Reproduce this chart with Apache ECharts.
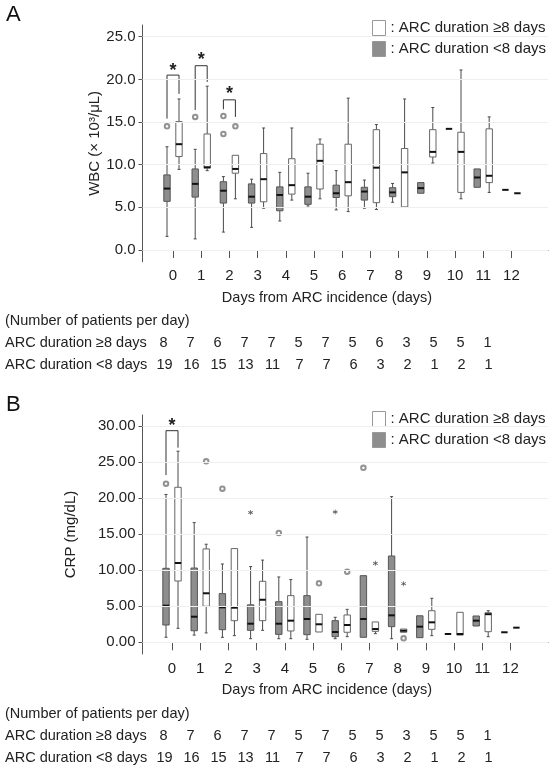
<!DOCTYPE html>
<html>
<head>
<meta charset="utf-8">
<script src="https://cdn.jsdelivr.net/npm/echarts@6/dist/echarts.min.js"></script>
<style>html,body{margin:0;padding:0;background:#fff}#c{width:550px;height:771px}</style>
</head>
<body>
<div id="c"></div>
<script>
(() => {
  "use strict";
  const LONG = "ARC duration ≥8 days";
  const SHORT = "ARC duration <8 days";
  const days = ["0", "1", "2", "3", "4", "5", "6", "7", "8", "9", "10", "11", "12"];

  // [min, Q1, median, Q3, max] per day
  const wbcLong = [
    [9.45, 10.95, 12.4, 15.05, 17.7], [9.3, 9.6, 9.7, 13.6, 19.2], [6.0, 9.0, 9.5, 11.1, 11.1],
    [4.9, 5.65, 8.3, 11.3, 14.3], [5.85, 6.55, 7.6, 10.7, 14.3], [6.0, 7.15, 10.45, 12.4, 13.0],
    [4.5, 6.35, 7.95, 12.4, 17.8], [4.75, 5.55, 9.65, 14.1, 14.7], [5.05, 5.05, 9.1, 11.9, 17.7],
    [10.2, 10.9, 11.5, 14.1, 16.7], [6.0, 6.75, 11.5, 13.8, 21.1], [6.75, 7.9, 8.7, 14.2, 15.6],
    [6.65, 6.65, 6.65, 6.65, 6.65],
  ];
  const wbcShort = [
    [1.6, 5.7, 7.2, 8.8, 12.1], [1.3, 6.2, 7.75, 9.5, 11.8], [2.1, 5.5, 6.95, 8.0, 8.6],
    [2.65, 5.5, 6.25, 7.75, 8.3], [3.4, 4.6, 6.45, 7.4, 9.1], [5.15, 5.35, 6.25, 7.4, 9.0],
    [4.7, 6.15, 6.65, 7.6, 9.3], [4.9, 5.85, 6.85, 7.35, 8.2], [5.6, 6.25, 6.75, 7.3, 7.8],
    [6.65, 6.65, 7.25, 7.9, 7.9], [14.2, 14.2, 14.2, 14.2, 14.2], [7.35, 7.35, 8.5, 9.5, 9.5],
    [7.05, 7.05, 7.05, 7.05, 7.05],
  ];
  const wbcLongOut = [[2, 14.5]];
  const wbcShortOut = [[0, 14.5], [1, 15.6], [2, 15.7], [2, 13.6]];
  const wbcLongExt = [];
  const wbcShortExt = [];
  // [day, left leg bottom, bracket top, right leg bottom, star]
  const wbcSig = [[0, 15.4, 20.5, 18.3, 21.5], [1, 16.4, 21.6, 19.7, 22.7], [2, 16.5, 17.6, 15.6, 18.7]];

  const crpLong = [
    [1.94, 8.5, 11.0, 21.5, 26.5], [1.3, 5.0, 6.8, 12.95, 13.6], [0.92, 3.0, 4.8, 13.0, 13.0],
    [1.66, 3.0, 5.9, 8.46, 11.4], [0.5, 1.57, 3.0, 6.47, 8.7], [1.43, 1.43, 2.5, 3.88, 3.88],
    [0.78, 1.39, 2.4, 3.79, 4.57], [1.2, 1.52, 1.84, 2.82, 2.82], [1.39, 1.39, 1.6, 1.84, 1.84],
    [0.92, 1.8, 2.77, 4.38, 6.1], [1.0, 1.0, 1.15, 4.16, 4.16], [0.78, 1.47, 3.9, 4.1, 4.38],
    [2.03, 2.03, 2.03, 2.03, 2.03],
  ];
  const crpShort = [
    [0.7, 2.4, 5.08, 10.26, 20.5], [1.0, 1.6, 3.55, 10.3, 16.6], [0.69, 1.75, 4.85, 6.75, 10.86],
    [0.5, 1.66, 2.58, 5.2, 10.5], [0.5, 1.1, 2.58, 5.63, 9.06], [0.42, 1.06, 3.23, 6.47, 14.6],
    [0.5, 0.78, 1.43, 3.0, 3.47], [0.69, 0.69, 3.23, 9.24, 9.24], [0.5, 2.17, 3.74, 11.97, 20.2],
    [0.64, 0.64, 2.17, 3.68, 3.68], [1.15, 1.15, 1.15, 1.15, 1.15], [2.26, 2.26, 3.0, 3.65, 3.65],
    [1.39, 1.39, 1.39, 1.39, 1.39],
  ];
  const crpLongOut = [[1, 25.1], [5, 8.18], [6, 9.8], [8, 0.55]];
  const crpShortOut = [[0, 22.0], [2, 21.3], [4, 15.16], [7, 24.2]];
  const crpLongExt = [[7, 10.95], [8, 8.13]];
  const crpShortExt = [[3, 18.0], [6, 18.07]];
  const crpSig = [[0, 23.2, 29.35, 27.0, 30.5]];

  const wbcTicks = [0, 5, 10, 15, 20, 25];
  const crpTicks = [0, 5, 10, 15, 20, 25, 30];

  const nLongA = [8, 7, 6, 7, 7, 5, 7, 5, 6, 3, 5, 5, 1];
  const nShortA = [19, 16, 15, 13, 11, 7, 7, 6, 3, 2, 1, 2, 1];
  const nLongB = [8, 7, 6, 7, 7, 5, 7, 5, 5, 3, 5, 5, 1];
  const nShortB = [19, 16, 15, 13, 11, 7, 7, 6, 3, 2, 1, 2, 1];

  const FONT = "'Liberation Sans', Arial, sans-serif";
  const TXT = "#222";
  const AX = "#555";
  const GRAY = "#8e8e8e";
  const OFF = 6, BOX_W = 6.4, CAP_W = 3;
  const FRAME_L = 142.5, FRAME_R = 548, BAND = 28.2;

  const panels = [
    { letter: "A", name: "WBC (× 10³/μL)", nameGap: 40, frameTop: 25, axisY: 261.7, topVal: 25, topPx: 36.7, zeroPx: 250, tick0: 173,
      ticks: wbcTicks, dec: 1, long: wbcLong, short: wbcShort, longOut: wbcLongOut, shortOut: wbcShortOut,
      longExt: wbcLongExt, shortExt: wbcShortExt, sig: wbcSig, nLong: nLongA, nShort: nShortA, legendTop: 15 },
    { letter: "B", name: "CRP (mg/dL)", nameGap: 64, frameTop: 415, axisY: 654, topVal: 30, topPx: 426, zeroPx: 642.3, tick0: 172,
      ticks: crpTicks, dec: 2, long: crpLong, short: crpShort, longOut: crpLongOut, shortOut: crpShortOut,
      longExt: crpLongExt, shortExt: crpShortExt, sig: crpSig, nLong: nLongB, nShort: nShortB, legendTop: 406 },
  ];

  const grid = [], xAxis = [], yAxis = [], series = [], legend = [], graphic = [];

  const boxRender = (side, fill, stroke) => (params, api) => {
    const i = api.value(0);
    const x = api.coord([i, 0])[0] + side * OFF;
    const [yMin, yQ1, yMed, yQ3, yMax] = [1, 2, 3, 4, 5].map(k => api.coord([i, api.value(k)])[1]);
    const hw = BOX_W / 2, cw = CAP_W / 2;
    const ws = { stroke: "#4a4a4a", lineWidth: 1 };
    const line = (x1, y1, x2, y2, style) => ({ type: "line", shape: { x1, y1, x2, y2 }, style });
    const kids = [];
    if (yMax < yQ3 - 0.5) kids.push(line(x, yMax, x, yQ3, ws), line(x - cw, yMax, x + cw, yMax, ws));
    if (yMin > yQ1 + 0.5) kids.push(line(x, yQ1, x, yMin, ws), line(x - cw, yMin, x + cw, yMin, ws));
    if (yQ1 - yQ3 > 0.5) kids.push({ type: "rect", shape: { x: x - hw, y: yQ3, width: BOX_W, height: yQ1 - yQ3 }, style: { fill, stroke, lineWidth: 1 } });
    kids.push(line(x - hw, yMed, x + hw, yMed, { stroke: "#111", lineWidth: 2 }));
    return { type: "group", children: kids };
  };

  const sigRender = (params, api) => {
    const i = api.value(0);
    const x = api.coord([i, 0])[0];
    const [yL, yT, yR, yS] = [1, 2, 3, 4].map(k => api.coord([i, api.value(k)])[1]);
    return { type: "group", children: [
      { type: "polyline", shape: { points: [[x - OFF, yL], [x - OFF, yT], [x + OFF, yT], [x + OFF, yR]] }, style: { stroke: "#333", lineWidth: 1, fill: null } },
      { type: "text", x, y: yS + 4, style: { text: "*", font: `bold 18px ${FONT}`, fill: "#222", align: "center", verticalAlign: "middle" } },
    ] };
  };

  // small six-armed asterisk, all arms wound the same way
  const STAR = "path://M4.3,0h1.4v10h-1.4z M0.2,3.3L1.0,1.9L9.8,6.7L9.0,8.1z M0.2,6.7L9.0,1.9L9.8,3.3L1.0,8.1z";

  panels.forEach((p) => {
    const k = (p.zeroPx - p.topPx) / p.topVal;
    const fMin = -(p.axisY - p.zeroPx) / k;
    const fMax = p.topVal + (p.topPx - p.frameTop) / k;
    const innerL = p.tick0 - BAND / 2;
    const gF = grid.length;
    grid.push({ left: FRAME_L, top: p.frameTop, width: FRAME_R - FRAME_L, height: p.axisY - p.frameTop });
    grid.push({ left: innerL, top: p.topPx, width: BAND * 13, height: p.zeroPx - p.topPx });
    const gI = gF + 1;
    const xF = xAxis.length, yF = yAxis.length;

    xAxis.push({ gridIndex: gF, type: "value", min: 0, max: 1, axisLine: { lineStyle: { color: AX } }, axisTick: { show: false }, axisLabel: { show: false }, splitLine: { show: false } });
    yAxis.push({ gridIndex: gF, type: "value", min: fMin, max: fMax, axisLine: { show: true, lineStyle: { color: AX } }, axisTick: { show: false }, axisLabel: { show: false }, splitLine: { show: false },
      name: p.name, nameLocation: "middle", nameGap: p.nameGap, nameTextStyle: { fontFamily: FONT, fontSize: 15, color: TXT } });

    xAxis.push({ gridIndex: gI, type: "category", data: days, offset: (p.axisY - p.zeroPx) - 4,
      axisLine: { show: false }, axisTick: { show: true, alignWithLabel: true, length: 8, lineStyle: { color: AX } },
      axisLabel: { margin: 11, fontFamily: FONT, fontSize: 15, color: TXT, interval: 0 } });
    yAxis.push({ gridIndex: gI, type: "value", min: 0, max: p.topVal, interval: 5, offset: innerL - FRAME_L,
      axisLine: { show: false }, axisTick: { show: true, length: 4, lineStyle: { color: AX } },
      axisLabel: { margin: 7, fontFamily: FONT, fontSize: 15, color: TXT, formatter: v => v.toFixed(p.dec) }, splitLine: { show: false } });
    const xI = xF + 1, yI = yF + 1;

    // faint gridlines across the whole frame
    series.push({ type: "line", xAxisIndex: xF, yAxisIndex: yF, data: [], silent: true,
      markLine: { silent: true, symbol: "none", label: { show: false }, lineStyle: { color: "#efefef", type: "solid", width: 1 },
        data: p.ticks.map(v => ({ yAxis: v })) } });

    const mk = (rows) => rows.map((r, i) => [days[i], ...r]);
    series.push({ name: SHORT, type: "custom", xAxisIndex: xI, yAxisIndex: yI, clip: false, renderItem: boxRender(-1, GRAY, "#555"),
      encode: { x: 0, y: [1, 2, 3, 4, 5] }, itemStyle: { color: GRAY }, data: mk(p.short) });
    series.push({ name: LONG, type: "custom", xAxisIndex: xI, yAxisIndex: yI, clip: false, renderItem: boxRender(1, "#fff", "#666"),
      encode: { x: 0, y: [1, 2, 3, 4, 5] }, itemStyle: { color: "#fff" }, data: mk(p.long) });

    const pts = arr => arr.map(([d, v]) => [days[d], v]);
    series.push({ name: SHORT, type: "scatter", xAxisIndex: xI, yAxisIndex: yI, symbol: "emptyCircle", symbolSize: 4.5, symbolOffset: [-OFF, 0],
      itemStyle: { color: "#777", borderWidth: 1 }, data: pts(p.shortOut), z: 3 });
    series.push({ name: LONG, type: "scatter", xAxisIndex: xI, yAxisIndex: yI, symbol: "emptyCircle", symbolSize: 4.5, symbolOffset: [OFF, 0],
      itemStyle: { color: "#777", borderWidth: 1 }, data: pts(p.longOut), z: 3 });
    series.push({ name: SHORT, type: "scatter", xAxisIndex: xI, yAxisIndex: yI, symbol: STAR, symbolSize: 5, symbolOffset: [-OFF, 0],
      itemStyle: { color: "#333" }, data: pts(p.shortExt), z: 3 });
    series.push({ name: LONG, type: "scatter", xAxisIndex: xI, yAxisIndex: yI, symbol: STAR, symbolSize: 5, symbolOffset: [OFF, 0],
      itemStyle: { color: "#333" }, data: pts(p.longExt), z: 3 });

    series.push({ type: "custom", xAxisIndex: xI, yAxisIndex: yI, clip: false, renderItem: sigRender, silent: true,
      data: p.sig.map(([d, ...r]) => [days[d], ...r]) });

    legend.push({ left: 367, top: p.legendTop, orient: "vertical", itemWidth: 13, itemHeight: 15, itemGap: 5, selectedMode: false,
      formatter: nm => ": " + nm, textStyle: { fontFamily: FONT, fontSize: 15, color: TXT },
      data: [
        { name: LONG, icon: "rect", itemStyle: { color: "#fff", borderColor: "#999", borderWidth: 1 } },
        { name: SHORT, icon: "rect", itemStyle: { color: GRAY, borderColor: "#999", borderWidth: 1 } },
      ] });

    const t = (text, x, y, extra) => ({ type: "text", x, y, silent: true,
      style: Object.assign({ text, font: `14.5px ${FONT}`, fill: TXT, align: "left", verticalAlign: "middle" }, extra || {}) });
    graphic.push(t(p.letter, 6, p.frameTop - 10, { font: `22px ${FONT}`, fill: "#111" }));
    graphic.push(t("Days from ARC incidence (days)", 327, p.axisY + 36.3, { align: "center" }));
    graphic.push(t("(Number of patients per day)", 5, p.axisY + 59.5));
    graphic.push(t(LONG, 5, p.axisY + 81.5));
    graphic.push(t(SHORT, 5, p.axisY + 103.5));
    p.nLong.forEach((v, i) => graphic.push(t(String(v), 163.5 + 27 * i, p.axisY + 81.5, { align: "center" })));
    p.nShort.forEach((v, i) => graphic.push(t(String(v), 164.5 + 27 * i, p.axisY + 103.5, { align: "center" })));
  });

  const chart = echarts.init(document.getElementById("c"), null, { renderer: "canvas" });
  chart.setOption({ animation: false, backgroundColor: "#fff", grid, xAxis, yAxis, series, legend, graphic });
})();
</script>
</body>
</html>
